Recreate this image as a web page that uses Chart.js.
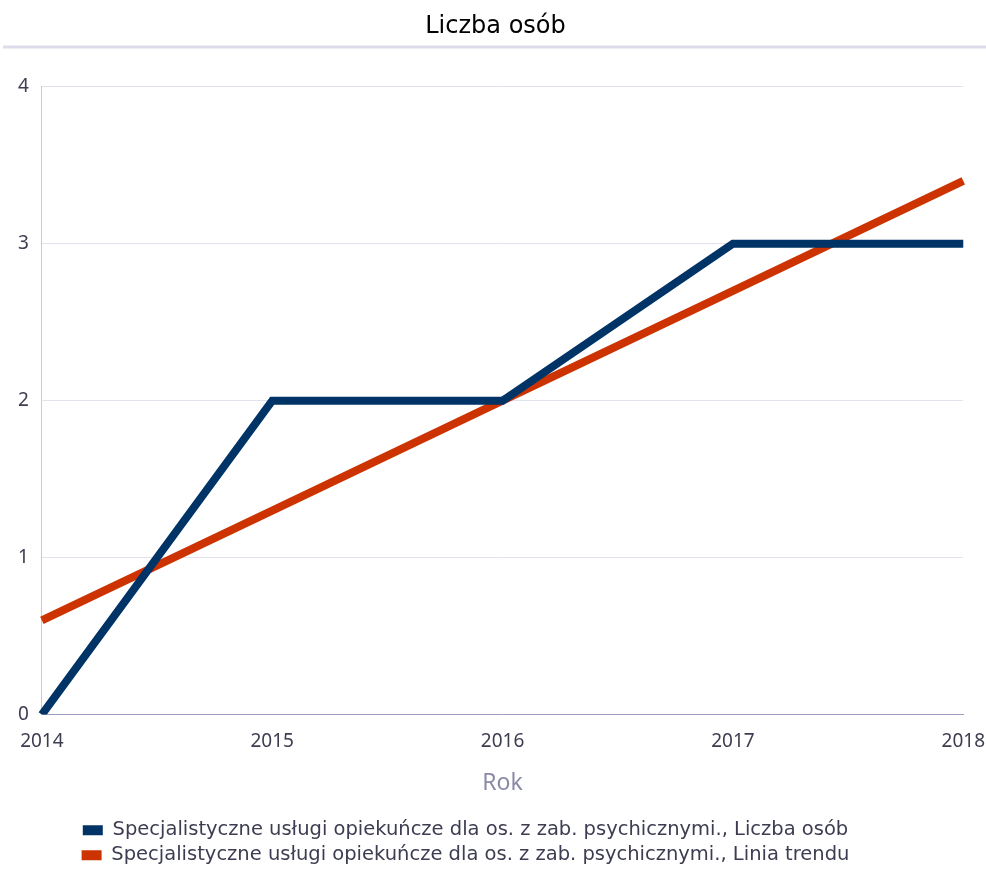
<!DOCTYPE html>
<html lang="pl">
<head>
  <meta charset="UTF-8" />
  <title>Liczba osób</title>
  <script src="https://cdn.jsdelivr.net/npm/chart.js"></script>
  <style>
    body { margin: 0; background: #fff; }
    #wrap { width: 986px; height: 869px; position: relative; }
  </style>
</head>
<body>
  <div id="wrap"><canvas id="chart" width="986" height="869"></canvas></div>
  <script>
    const years = ["2014", "2015", "2016", "2017", "2018"];
    const persons = [0, 2, 2, 3, 3];
    const trend = [0.6, 1.3, 2.0, 2.7, 3.4];
    const seriesNames = [
      "Specjalistyczne usługi opiekuńcze dla os. z zab. psychicznymi., Liczba osób",
      "Specjalistyczne usługi opiekuńcze dla os. z zab. psychicznymi., Linia trendu"
    ];

    // thin rule under the title + nudge legend a bit left
    const titleRule = {
      id: "titleRule",
      afterLayout(chart) {
        chart.legend.right -= 60;
      },
      afterDraw(chart) {
        const ctx = chart.ctx;
        ctx.save();
        ctx.strokeStyle = "#dcdcea";
        ctx.lineWidth = 3;
        ctx.beginPath();
        ctx.moveTo(3, 47);
        ctx.lineTo(986, 47);
        ctx.stroke();
        ctx.restore();
      }
    };

    const tickFont = { family: "'Noto Sans', sans-serif", size: 19 };

    new Chart(document.getElementById("chart"), {
      type: "line",
      data: {
        labels: years,
        datasets: [
          {
            label: seriesNames[0],
            data: persons,
            borderColor: "#003366",
            backgroundColor: "#003366",
            borderWidth: 8,
            pointRadius: 0,
            tension: 0
          },
          {
            label: seriesNames[1],
            data: trend,
            borderColor: "#cc3300",
            backgroundColor: "#cc3300",
            borderWidth: 8,
            pointRadius: 0,
            tension: 0
          }
        ]
      },
      options: {
        responsive: false,
        animation: false,
        layout: { padding: { left: 5, right: 0, top: 0, bottom: -6 } },
        scales: {
          x: {
            offset: false,
            grid: { display: true, drawOnChartArea: false, drawTicks: true, tickLength: 15, tickColor: "rgba(0,0,0,0)" },
            border: { color: "#9c9cc4", width: 1 },
            ticks: { color: "#3d3d52", font: tickFont, padding: 1, maxRotation: 0 },
            title: { display: true, text: "Rok", color: "#8a8aa6", font: { family: "'Noto Sans', sans-serif", size: 23 }, padding: { top: 15, bottom: 18 } }
          },
          y: {
            min: 0,
            max: 4,
            ticks: { stepSize: 1, color: "#3d3d52", font: tickFont, padding: 13 },
            grid: { color: "#e2e2ee", drawTicks: false },
            border: { color: "#c8c8dc", width: 1 }
          }
        },
        plugins: {
          title: {
            display: true,
            text: "Liczba osób",
            color: "#000",
            font: { family: "'DejaVu Sans', sans-serif", size: 24, weight: "normal" },
            padding: { top: 12, bottom: 46 }
          },
          legend: {
            position: "bottom",
            labels: {
              color: "#3d3d52",
              font: { family: "'DejaVu Sans', sans-serif", size: 19.5 },
              boxWidth: 20,
              boxHeight: 10,
              padding: 5.5,
              generateLabels: chart =>
                Chart.defaults.plugins.legend.labels.generateLabels(chart).map(l => ({ ...l, lineWidth: 0 }))
            }
          },
          tooltip: { enabled: false }
        }
      },
      plugins: [titleRule]
    });
  </script>
</body>
</html>
